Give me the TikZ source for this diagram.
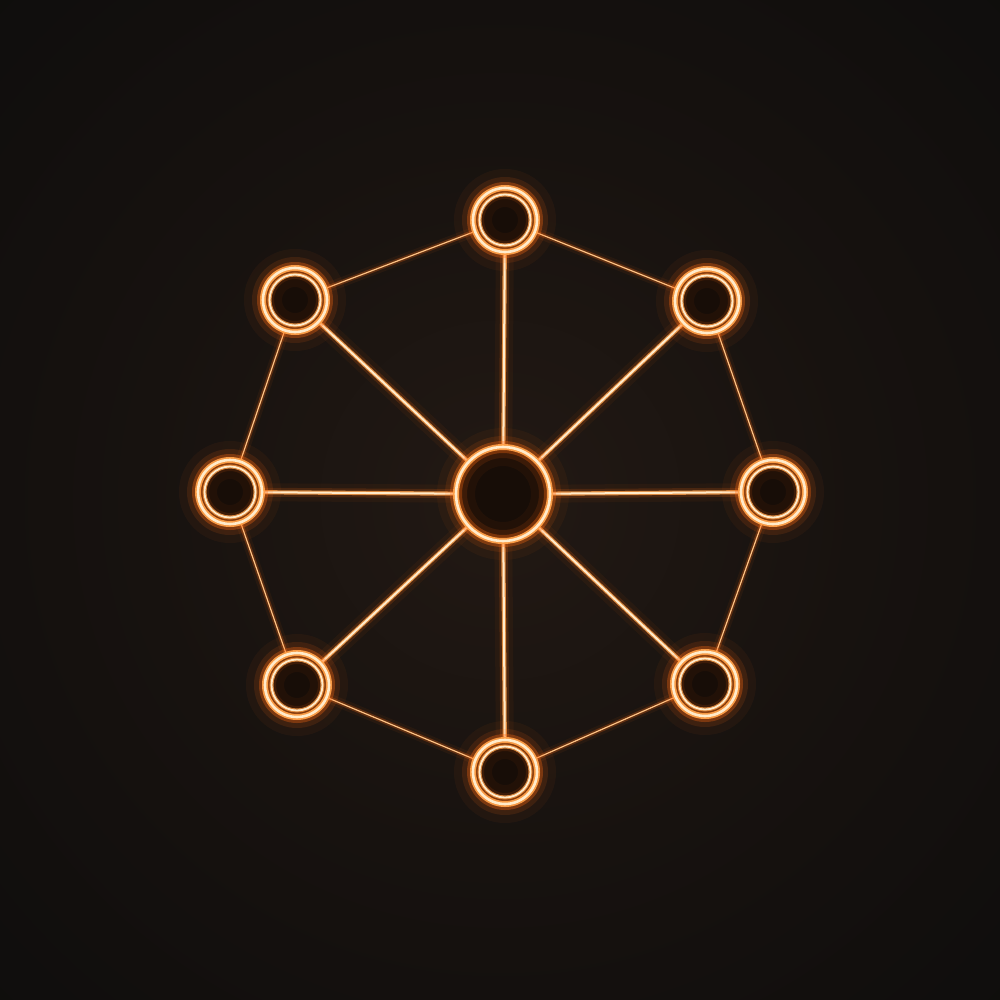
\documentclass[tikz,border=0pt]{standalone}
\definecolor{core}{HTML}{FFEBCB}
\definecolor{mid}{HTML}{FFA048}
\definecolor{glow}{HTML}{FF6A10}
\definecolor{bgc}{HTML}{221914}
\definecolor{bgm}{HTML}{17120F}
\definecolor{bge}{HTML}{0B0B0B}
\definecolor{indark}{HTML}{170D07}
\definecolor{inedge}{HTML}{8A3A0C}
\pgfdeclareradialshading{bgshade}{\pgfpoint{0bp}{0bp}}{color(0bp)=(bgc); color(18bp)=(bgm); color(45bp)=(bge); color(75bp)=(bge)}
\pgfdeclareradialshading{nodein}{\pgfpoint{0bp}{0bp}}{color(0bp)=(indark); color(18bp)=(indark); color(40bp)=(inedge!55!indark); color(50bp)=(inedge)}
\pgfdeclareradialshading{hubin}{\pgfpoint{0bp}{0bp}}{color(0bp)=(indark); color(30bp)=(indark); color(44bp)=(inedge!50!indark); color(50bp)=(inedge)}
\tikzset{
  hubnode/.style={circle, minimum size=64pt, inner sep=0pt, outer sep=0pt},
  corenode/.style={circle, minimum size=96pt, inner sep=0pt, outer sep=0pt},
  spoke/.style={draw=core, line width=2pt,
    preaction={draw=glow, line width=18pt, opacity=.05},
    preaction={draw=glow, line width=9pt, opacity=.16},
    preaction={draw=mid, line width=4.2pt, opacity=.8}},
  rim/.style={draw=mid!55!core, line width=1.2pt,
    preaction={draw=glow, line width=10pt, opacity=.06},
    preaction={draw=glow, line width=4.5pt, opacity=.25}},
  ring/.style={draw=core, line width=2.6pt,
    preaction={draw=glow, line width=38pt, opacity=.05},
    preaction={draw=glow, line width=22pt, opacity=.12},
    preaction={draw=glow, line width=12pt, opacity=.32},
    preaction={draw=mid, line width=6pt, opacity=.95}},
  thinring/.style={draw=core, line width=1.8pt,
    preaction={draw=mid, line width=4pt, opacity=.75}},
}
\begin{document}
\begin{tikzpicture}[x=1pt,y=-1pt]
\useasboundingbox (0,0) rectangle (1000,1000);
\shade[shading=bgshade] (0,0) rectangle (1000,1000);

% nodes
\node[corenode] (c) at (503,494) {};
\node[hubnode] (n1) at (505,220) {};
\node[hubnode] (n2) at (707,301) {};
\node[hubnode] (n3) at (773,492) {};
\node[hubnode] (n4) at (705,684) {};
\node[hubnode] (n5) at (505,772) {};
\node[hubnode] (n6) at (297,685) {};
\node[hubnode] (n7) at (230,492) {};
\node[hubnode] (n8) at (295,300) {};

% outer rim
\draw[rim] (n1) -- (n2);
\draw[rim] (n2) -- (n3);
\draw[rim] (n3) -- (n4);
\draw[rim] (n4) -- (n5);
\draw[rim] (n5) -- (n6);
\draw[rim] (n6) -- (n7);
\draw[rim] (n7) -- (n8);
\draw[rim] (n8) -- (n1);

% spokes
\foreach \n in {n1,n2,n3,n4,n5,n6,n7,n8}
  \draw[spoke] (c) -- (\n);

% hub interiors and rings
\foreach \n in {n1,n2,n3,n4,n5,n6,n7,n8}{
  \shade[shading=nodein] (\n.center) circle (32pt);
  \draw[ring] (\n.center) circle (32pt);
  \draw[thinring] (\n.center) circle (25.5pt);
}
\shade[shading=hubin] (c.center) circle (47pt);
\draw[ring] (c.center) circle (47pt);
\end{tikzpicture}
\end{document}
